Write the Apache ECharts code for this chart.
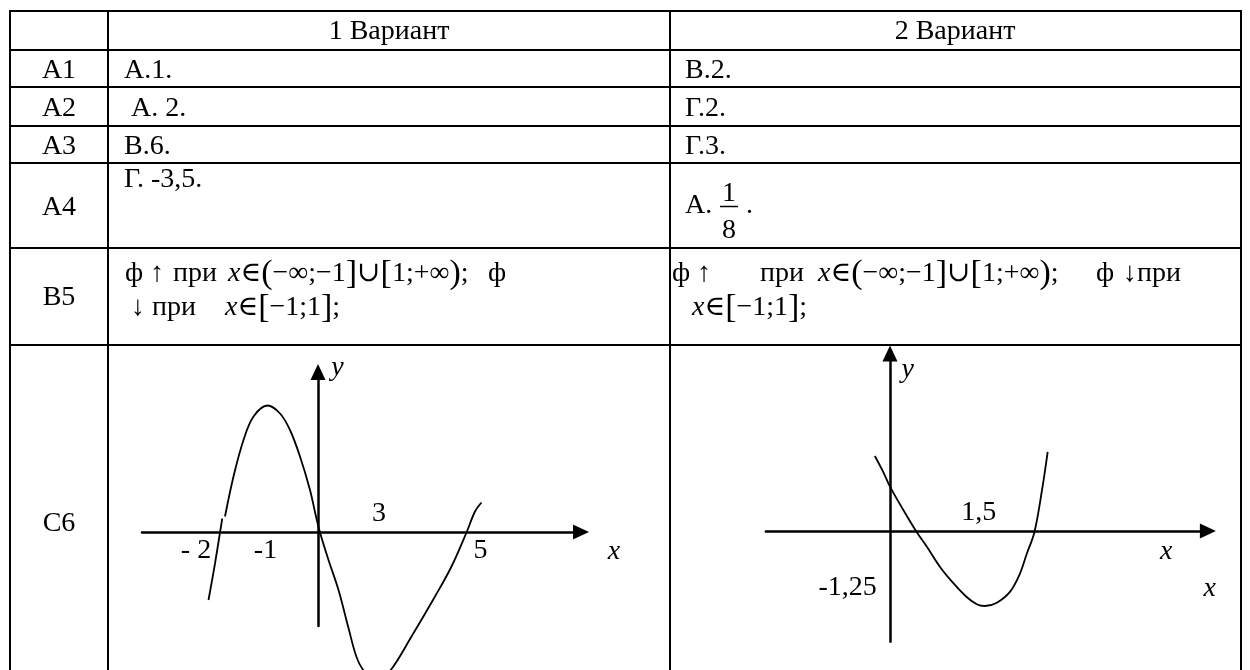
<!DOCTYPE html>
<html>
<head>
<meta charset="utf-8">
<script src="https://cdn.jsdelivr.net/npm/echarts@6/dist/echarts.min.js"></script>
<style>
html, body { margin: 0; padding: 0; background: #fff; }
#chart { width: 1250px; height: 670px; }
</style>
</head>
<body>
<div id="chart"></div>
<script>
// table content
const headers = ['1 Вариант', '2 Вариант'];
const rowLabels = ['А1', 'А2', 'А3', 'А4', 'В5', 'С6'];
const answers1 = ['А.1.', ' А. 2.', 'В.6.', 'Г. -3,5.'];
const answers2 = ['В.2.', 'Г.2.', 'Г.3.'];
const fraction2 = ['А.', '1', '8', '.'];
const mathOpen = '{i|x}{n|∈}{b|(}{n|−∞;−1}{b|]}{n|∪}{b|[}{n|1;+∞}{b|)}{n|;}';
const mathClosed = '{i|x}{n|∈}{b|[}{n|−1;1}{b|]}{n|;}';
const b5Pieces = [
  // text, left x, line
  ['{n|ф ↑}', 125, 0], ['{n|при}', 173, 0], [mathOpen, 228, 0], ['{n|ф}', 488, 0],
  ['{n|↓}', 131, 1], ['{n|при}', 152, 1], [mathClosed, 225, 1],
  ['{n|ф ↑}', 672, 0], ['{n|при}', 760, 0], [mathOpen, 818, 0], ['{n|ф}', 1096, 0], ['{n|↓при}', 1123, 0],
  [mathClosed, 692, 1]
];

// graph of variant 1 (sketch units)
const curve1Start = [[-2.19, -1.36], [-2.06, -0.63], [-1.96, -0.01], [-1.915, 0.27]];
const curve1 = [
  [-1.86, 0.31], [-1.69, 1.11], [-1.49, 1.84], [-1.29, 2.31], [-1.01, 2.53],
  [-0.76, 2.37], [-0.56, 2.04], [-0.36, 1.51], [-0.16, 0.84], [-0.04, 0.31],
  [0.04, -0.01], [0.21, -0.56], [0.41, -1.16], [0.61, -1.92], [0.77, -2.5],
  [0.92, -2.78], [1.17, -2.98], [1.44, -2.78], [1.87, -2.09], [2.34, -1.29],
  [2.67, -0.69], [2.97, -0.01], [3.14, 0.41], [3.27, 0.59]
];
const g1Labels = ['- 2', '-1', '3', '5', 'x', 'y'];
const g1LabelX = [-2.44, -1.05, 1.22, 3.25, 5.92, 0.39];
const g1LabelY = [-0.38, -0.38, 0.37, -0.38, -0.4, 3.29];

// graph of variant 2 (sketch units)
const curve2 = [
  [-0.24, 1.25], [-0.11, 0.99], [0, 0.74], [0.21, 0.35], [0.41, 0.0],
  [0.58, -0.26], [0.79, -0.6], [1.0, -0.87], [1.21, -1.1], [1.37, -1.22],
  [1.5, -1.25], [1.68, -1.2], [1.89, -1.02], [2.04, -0.74], [2.16, -0.38],
  [2.28, -0.02], [2.4, 0.68], [2.49, 1.32]
];
const g2Labels = ['y', '1,5', 'x', 'x', '-1,25'];
const g2LabelX = [0.28, 1.4, 4.36, 5.05, -0.67];
const g2LabelY = [2.69, 0.3, -0.35, -0.96, -0.95];
const italicLabels = ['x', 'y'];

const FONT = "'Liberation Serif', 'DejaVu Serif', serif";
const hLines = [11, 50, 87, 126, 163, 248, 345];
const vLines = [10, 108, 670, 1241];
const rowMid = [71, 109, 147, 208, 298, 524];
const b5Mid = [274, 308];

const chart = echarts.init(document.getElementById('chart'));

const rich = {
  n: { fontFamily: FONT, fontSize: 28, fill: '#000' },
  i: { fontFamily: FONT, fontSize: 28, fontStyle: 'italic', fill: '#000' },
  b: { fontFamily: FONT, fontSize: 34, fill: '#000' }
};

function txt(text, x, y, align, extra) {
  return {
    type: 'text',
    z: 10,
    style: Object.assign({
      text: text, x: x, y: y,
      fontFamily: FONT, fontSize: 28, fill: '#000',
      align: align, textAlign: align,
      verticalAlign: 'middle', textVerticalAlign: 'middle'
    }, extra || {})
  };
}

const graphics = [];
hLines.forEach(y => {
  graphics.push({ type: 'line', shape: { x1: 9, y1: y, x2: 1242, y2: y }, style: { stroke: '#000', lineWidth: 2 } });
});
vLines.forEach(x => {
  graphics.push({ type: 'line', shape: { x1: x, y1: 10, x2: x, y2: 670 }, style: { stroke: '#000', lineWidth: 2 } });
});
graphics.push(txt(headers[0], 389, 32, 'center'));
graphics.push(txt(headers[1], 955, 32, 'center'));
rowLabels.forEach((t, i) => graphics.push(txt(t, 59, rowMid[i], 'center')));
answers1.forEach((t, i) => graphics.push(txt(t, 124, i === 3 ? 180 : rowMid[i], 'left')));
answers2.forEach((t, i) => graphics.push(txt(t, 685, rowMid[i], 'left')));
graphics.push(txt(fraction2[0], 685, 206, 'left'));
graphics.push(txt(fraction2[1], 729, 194, 'center'));
graphics.push({ type: 'line', shape: { x1: 720, y1: 206.5, x2: 738, y2: 206.5 }, style: { stroke: '#000', lineWidth: 1.5 } });
graphics.push(txt(fraction2[2], 729, 231, 'center'));
graphics.push(txt(fraction2[3], 746, 206, 'left'));
b5Pieces.forEach(p => graphics.push(txt(p[0], p[1], b5Mid[p[2]], 'left', { rich: rich })));

function axis(min, max, gridIndex) {
  return {
    type: 'value',
    gridIndex: gridIndex,
    min: min,
    max: max,
    axisLine: {
      show: true,
      onZero: true,
      symbol: ['none', 'triangle'],
      symbolSize: [15, 16],
      lineStyle: { color: '#000', width: 2.5 }
    },
    axisTick: { show: false },
    axisLabel: { show: false },
    splitLine: { show: false }
  };
}

function curve(data, gridIndex) {
  return {
    type: 'line',
    xAxisIndex: gridIndex,
    yAxisIndex: gridIndex,
    data: data,
    smooth: 0.35,
    showSymbol: false,
    clip: false,
    lineStyle: { color: '#000', width: 1.8 }
  };
}

function labels(names, xs, ys, gridIndex) {
  return {
    type: 'scatter',
    xAxisIndex: gridIndex,
    yAxisIndex: gridIndex,
    clip: false,
    symbolSize: 1,
    itemStyle: { color: 'rgba(0,0,0,0)', opacity: 1 },
    data: names.map((n, i) => ({
      name: n,
      value: [xs[i], ys[i]],
      label: { fontStyle: italicLabels.includes(n) ? 'italic' : 'normal' }
    })),
    label: {
      show: true,
      position: 'inside',
      formatter: p => p.name,
      fontFamily: FONT,
      fontSize: 28,
      color: '#000',
      opacity: 1,
      align: 'center',
      verticalAlign: 'middle'
    }
  };
}

chart.setOption({
  animation: false,
  backgroundColor: '#fff',
  grid: [
    { left: 142, top: 372, width: 439, height: 254 },
    { left: 765.9, top: 353.5, width: 442, height: 288.2 }
  ],
  xAxis: [axis(-3.52, 5.26, 0), axis(-1.96, 5.02, 1)],
  yAxis: [axis(-1.88, 3.2, 0), axis(-1.845, 2.958, 1)],
  series: [
    curve(curve1Start, 0),
    curve(curve1, 0),
    curve(curve2, 1),
    labels(g1Labels, g1LabelX, g1LabelY, 0),
    labels(g2Labels, g2LabelX, g2LabelY, 1)
  ],
  graphic: graphics
});
</script>
</body>
</html>
